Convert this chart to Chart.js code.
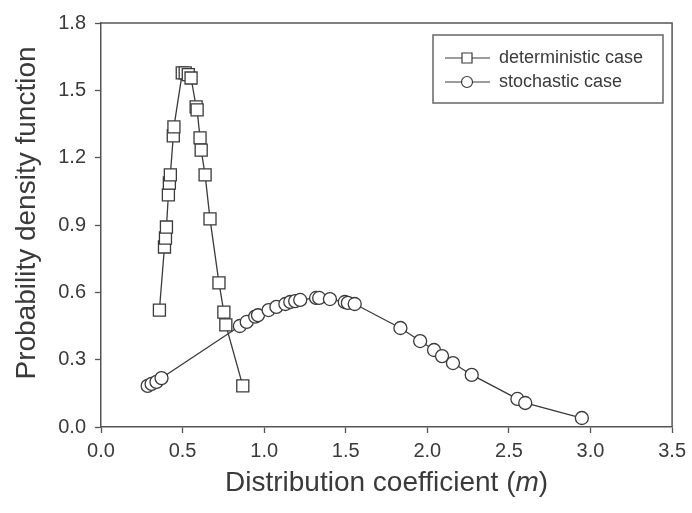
<!DOCTYPE html>
<html><head><meta charset="utf-8">
<script src="https://cdn.jsdelivr.net/npm/chart.js@4/dist/chart.umd.min.js"></script>
<style>html,body{margin:0;padding:0;background:#fff}</style>
</head><body>
<canvas id="c" width="692" height="513"></canvas>
<script>
// ---- data ----
const seriesNames = ["deterministic case", "stochastic case"];
const detX = [0.358,0.389,0.395,0.401,0.413,0.419,0.425,0.443,0.447,0.498,0.516,0.535,0.552,0.583,0.589,0.607,0.614,0.638,0.668,0.723,0.753,0.765,0.869];
const detY = [0.521,0.802,0.842,0.891,1.034,1.087,1.123,1.297,1.337,1.578,1.578,1.570,1.555,1.426,1.413,1.288,1.234,1.123,0.927,0.642,0.512,0.455,0.183];
const stoX = [0.286,0.310,0.340,0.371,0.851,0.893,0.945,0.962,1.027,1.075,1.130,1.160,1.190,1.221,1.318,1.337,1.403,1.494,1.513,1.555,1.835,1.956,2.041,2.090,2.157,2.272,2.552,2.600,2.947];
const stoY = [0.183,0.192,0.201,0.218,0.450,0.468,0.492,0.498,0.521,0.535,0.548,0.557,0.561,0.566,0.575,0.575,0.570,0.557,0.553,0.548,0.441,0.383,0.343,0.316,0.285,0.232,0.125,0.107,0.040];
const xTickValues = [0,0.5,1.0,1.5,2.0,2.5,3.0,3.5];
const yTickValues = [0,0.3,0.6,0.9,1.2,1.5,1.8];
// x title parts: [text, italic?]
const xTitleParts = [["Distribution coefficient (", false], ["m", true], [")", false]];
const yTitle = "Probability density function";

const FONT = "'Liberation Sans', Arial, Helvetica, sans-serif";
const INK = '#3a3a3a';

function pts(xs, ys){ return xs.map((x,i)=>({x:x, y:ys[i]})); }

const framePlugin = {
  id: 'frameLegend',
  afterDraw(chart){
    const ctx = chart.ctx;
    const a = chart.chartArea;
    ctx.save();
    ctx.strokeStyle = '#555';
    ctx.lineWidth = 1.5;
    ctx.beginPath();
    ctx.moveTo(a.left, a.top); ctx.lineTo(a.right, a.top); ctx.lineTo(a.right, a.bottom);
    ctx.stroke();
    // legend box
    const bx = 433, by = 35, bw = 230, bh = 68;
    ctx.strokeStyle = '#666';
    ctx.lineWidth = 1.5;
    ctx.strokeRect(bx, by, bw, bh);
    chart.data.datasets.forEach((ds, i) => {
      const y = 58 + i * 24;
      ctx.strokeStyle = INK; ctx.lineWidth = 1.2;
      ctx.beginPath(); ctx.moveTo(445, y); ctx.lineTo(490, y); ctx.stroke();
      ctx.fillStyle = '#fff';
      ctx.beginPath();
      if (ds.pointStyle === 'rect') { ctx.rect(462, y - 5, 10, 10); }
      else { ctx.arc(467, y, 5.5, 0, Math.PI * 2); }
      ctx.fill(); ctx.stroke();
      ctx.fillStyle = INK;
      ctx.font = "18px " + FONT;
      ctx.textBaseline = 'middle';
      ctx.textAlign = 'left';
      ctx.fillText(ds.label, 499, y);
    });
    // axis titles
    ctx.fillStyle = INK;
    ctx.textBaseline = 'middle';
    ctx.textAlign = 'left';
    const cx = (a.left + a.right) / 2;
    let total = 0;
    xTitleParts.forEach(([t, it]) => { ctx.font = (it ? "italic " : "") + "28px " + FONT; total += ctx.measureText(t).width; });
    let xx = cx - total / 2;
    xTitleParts.forEach(([t, it]) => { ctx.font = (it ? "italic " : "") + "28px " + FONT; ctx.fillText(t, xx, 483); xx += ctx.measureText(t).width; });
    ctx.translate(27, 213);
    ctx.rotate(-Math.PI / 2);
    ctx.textAlign = 'center';
    ctx.font = "28px " + FONT;
    ctx.fillText(yTitle, 0, 0);
    ctx.restore();
  }
};

new Chart(document.getElementById('c'), {
  type: 'line',
  data: {
    datasets: [
      { label: seriesNames[0], data: pts(detX, detY), pointStyle: 'rect', pointRadius: 8.5, borderColor: INK, borderWidth: 1.3,
        pointBackgroundColor: '#fff', pointBorderColor: INK, pointBorderWidth: 1.3, tension: 0, fill: false },
      { label: seriesNames[1], data: pts(stoX, stoY), pointStyle: 'circle', pointRadius: 6.5, borderColor: INK, borderWidth: 1.3,
        pointBackgroundColor: '#fff', pointBorderColor: INK, pointBorderWidth: 1.3, tension: 0, fill: false }
    ]
  },
  options: {
    responsive: false,
    animation: false,
    layout: { padding: { top: 23, right: 18, left: 0, bottom: 0 } },
    plugins: { legend: { display: false }, tooltip: { enabled: false } },
    scales: {
      x: {
        type: 'linear', min: 0, max: 3.5,
        afterBuildTicks: s => { s.ticks = xTickValues.map(v => ({value: v})); },
        afterFit: s => { s.height = 86; },
        ticks: { color: INK, font: { family: FONT, size: 20 }, padding: 6, maxRotation: 0,
                 callback: v => Number(v).toFixed(1) },
        grid: { drawOnChartArea: false, tickLength: 6, tickColor: '#555', tickWidth: 1.3 },
        border: { color: '#555', width: 1.5 },
        title: { display: false }
      },
      y: {
        type: 'linear', min: 0, max: 1.8,
        afterBuildTicks: s => { s.ticks = yTickValues.map(v => ({value: v})); },
        afterFit: s => { s.width = 101; },
        ticks: { color: INK, font: { family: FONT, size: 20 }, padding: 9,
                 callback: v => Number(v).toFixed(1) },
        grid: { drawOnChartArea: false, tickLength: 6, tickColor: '#555', tickWidth: 1.3 },
        border: { color: '#555', width: 1.5 },
        title: { display: false }
      }
    }
  },
  plugins: [framePlugin]
});
</script>
</body></html>
